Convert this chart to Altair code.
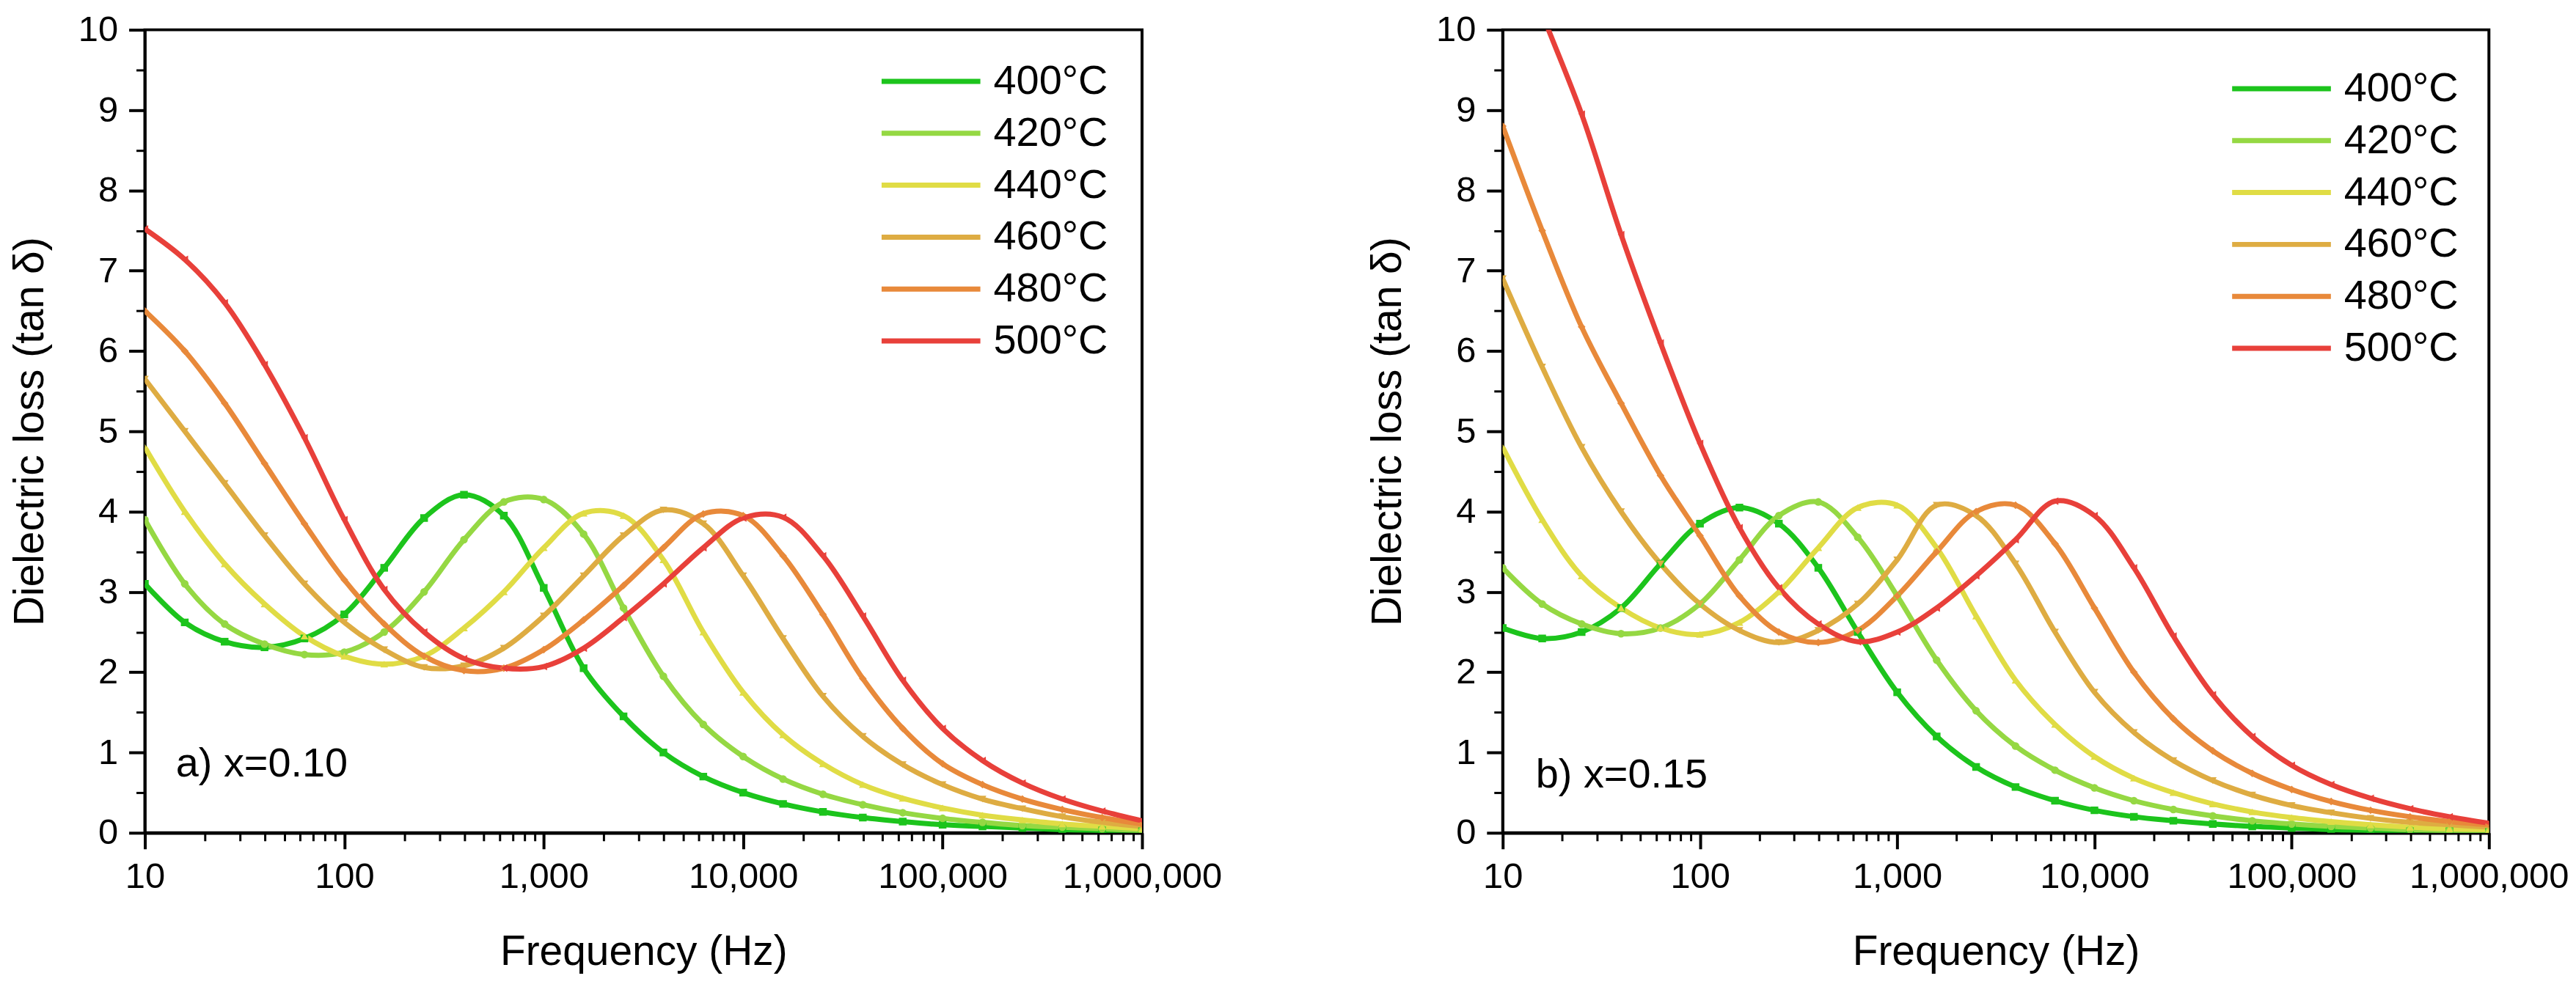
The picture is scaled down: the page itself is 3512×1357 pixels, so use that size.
import pandas as pd
import altair as alt

FONT = "Liberation Sans"

# frequency grid (Hz), one reading every 0.2 decade
freq_hz = [10, 15.85, 25.12, 39.81, 63.1, 100, 158.5, 251.2, 398.1, 631,
           1000, 1585, 2512, 3981, 6310, 10000, 15850, 25120, 39810, 63100,
           100000, 158500, 251200, 398100, 631000, 1000000]

temps = ["400°C", "420°C", "440°C", "460°C", "480°C", "500°C"]
colors = ["#1cc41c", "#95d843", "#e0dc45", "#deac42", "#e8893a", "#e8403a"]
shapes = ["square", "circle", "triangle-up", "triangle-down", "diamond", "triangle-left"]

# a) x=0.10
a_400 = [3.10, 2.62, 2.38, 2.31, 2.42, 2.72, 3.30, 3.92, 4.21, 3.95, 3.05, 2.05, 1.45,
         1.00, 0.70, 0.50, 0.36, 0.26, 0.19, 0.14, 0.10, 0.08, 0.06, 0.04, 0.03, 0.02]
a_420 = [3.90, 3.10, 2.60, 2.35, 2.22, 2.25, 2.50, 3.00, 3.65, 4.12, 4.15, 3.72, 2.80,
         1.95, 1.35, 0.95, 0.67, 0.48, 0.35, 0.25, 0.18, 0.13, 0.09, 0.07, 0.05, 0.03]
a_440 = [4.80, 4.00, 3.35, 2.85, 2.45, 2.20, 2.10, 2.20, 2.55, 3.00, 3.55, 3.98, 3.95,
         3.40, 2.50, 1.75, 1.22, 0.86, 0.60, 0.43, 0.31, 0.22, 0.16, 0.11, 0.08, 0.05]
a_460 = [5.65, 5.00, 4.35, 3.70, 3.10, 2.62, 2.28, 2.06, 2.08, 2.30, 2.70, 3.20, 3.70,
         4.02, 3.85, 3.20, 2.42, 1.70, 1.20, 0.85, 0.60, 0.42, 0.30, 0.20, 0.13, 0.08]
a_480 = [6.50, 6.00, 5.35, 4.60, 3.85, 3.15, 2.60, 2.20, 2.02, 2.05, 2.28, 2.65, 3.08,
         3.55, 3.97, 3.95, 3.45, 2.72, 1.92, 1.30, 0.86, 0.60, 0.42, 0.29, 0.19, 0.11]
a_500 = [7.52, 7.14, 6.60, 5.83, 4.92, 3.90, 3.03, 2.50, 2.17, 2.05, 2.07, 2.30, 2.68,
         3.10, 3.55, 3.92, 3.93, 3.45, 2.70, 1.90, 1.30, 0.90, 0.62, 0.42, 0.27, 0.15]

# b) x=0.15
b_400 = [2.55, 2.42, 2.50, 2.80, 3.35, 3.85, 4.05, 3.85, 3.30, 2.50, 1.75, 1.20, 0.82,
         0.57, 0.40, 0.28, 0.20, 0.15, 0.11, 0.08, 0.06, 0.04, 0.03, 0.02, 0.02, 0.01]
b_420 = [3.30, 2.85, 2.60, 2.48, 2.55, 2.85, 3.40, 3.95, 4.12, 3.68, 2.95, 2.15, 1.52,
         1.08, 0.78, 0.56, 0.40, 0.29, 0.21, 0.15, 0.11, 0.08, 0.06, 0.04, 0.03, 0.02]
b_440 = [4.80, 3.90, 3.20, 2.80, 2.55, 2.47, 2.62, 3.00, 3.55, 4.05, 4.08, 3.55, 2.70,
         1.90, 1.35, 0.95, 0.68, 0.50, 0.36, 0.26, 0.19, 0.14, 0.10, 0.07, 0.05, 0.04]
b_460 = [6.90, 5.80, 4.80, 4.00, 3.35, 2.85, 2.52, 2.37, 2.52, 2.85, 3.40, 4.08, 3.95,
         3.35, 2.50, 1.75, 1.25, 0.90, 0.65, 0.47, 0.34, 0.25, 0.18, 0.13, 0.10, 0.07]
b_480 = [8.80, 7.50, 6.30, 5.35, 4.45, 3.70, 2.95, 2.50, 2.37, 2.52, 2.95, 3.50, 4.00,
         4.08, 3.60, 2.80, 2.00, 1.42, 1.02, 0.74, 0.54, 0.39, 0.28, 0.20, 0.14, 0.10]
b_500 = [11.50, 10.20, 8.95, 7.45, 6.10, 4.85, 3.80, 3.05, 2.60, 2.38, 2.50, 2.80, 3.20,
         3.65, 4.13, 3.95, 3.30, 2.45, 1.72, 1.20, 0.84, 0.60, 0.43, 0.30, 0.20, 0.12]

x_major = [10, 100, 1000, 10000, 100000, 1000000]
x_minor = [20, 30, 40, 50, 60, 70, 80, 90,
           200, 300, 400, 500, 600, 700, 800, 900,
           2000, 3000, 4000, 5000, 6000, 7000, 8000, 9000,
           20000, 30000, 40000, 50000, 60000, 70000, 80000, 90000,
           200000, 300000, 400000, 500000, 600000, 700000, 800000, 900000]
y_major = [0, 1, 2, 3, 4, 5, 6, 7, 8, 9, 10]
y_minor = [0.5, 1.5, 2.5, 3.5, 4.5, 5.5, 6.5, 7.5, 8.5, 9.5]


def panel(series, note, note_x, note_y, width, height, leg_x, leg_y):
    rows = []
    for t, vals in zip(temps, series):
        for f, v in zip(freq_hz, vals):
            rows.append({"Frequency": f, "Loss": v, "Temp": t})
    df = pd.DataFrame(rows)

    xs = alt.Scale(type="log", domain=[10, 1000000], nice=False)
    ys = alt.Scale(domain=[0, 10], nice=False)
    cs = alt.Scale(domain=temps, range=colors)
    base = alt.Chart(df)

    lines = base.mark_line(strokeWidth=7, interpolate="catmull-rom", clip=True).encode(
        x=alt.X("Frequency:Q", scale=xs,
                axis=alt.Axis(orient="bottom", values=x_major, format=",d",
                              title="Frequency (Hz)", tickSize=22, tickWidth=4,
                              domainWidth=4.5, labelPadding=14, titlePadding=50,
                              labelFlush=False, labelOverlap=False, labelLimit=0)),
        y=alt.Y("Loss:Q", scale=ys,
                axis=alt.Axis(orient="left", values=y_major, format="d",
                              title="Dielectric loss (tan δ)", tickSize=22,
                              tickWidth=4, domainWidth=3.5, labelPadding=15,
                              titlePadding=36, labelFlush=False, labelOverlap=False)),
        color=alt.Color("Temp:N", scale=cs,
                        legend=alt.Legend(title=None, orient="none",
                                          legendX=leg_x, legendY=leg_y,
                                          symbolType="M-2.5,0L2.5,0", symbolSize=2916,
                                          symbolStrokeWidth=7, labelFontSize=56,
                                          labelFont=FONT, labelColor="black",
                                          labelOffset=55, rowPadding=12, padding=0)),
    )
    # one marker layer per series so each keeps its own symbol shape
    markers = []
    for t, s in zip(temps, shapes):
        markers.append(
            base.transform_filter(alt.datum.Temp == t).mark_point(
                shape=s, filled=True, size=110, opacity=1, clip=True
            ).encode(
                x=alt.X("Frequency:Q", scale=xs, axis=None),
                y=alt.Y("Loss:Q", scale=ys, axis=None),
                color=alt.Color("Temp:N", scale=cs, legend=None),
            )
        )
    minor = base.mark_point(opacity=0, clip=True).encode(
        x=alt.X("Frequency:Q", scale=xs,
                axis=alt.Axis(orient="bottom", values=x_minor, labels=False,
                              domain=False, tickSize=11, tickWidth=3, title=None)),
        y=alt.Y("Loss:Q", scale=ys,
                axis=alt.Axis(orient="left", values=y_minor, labels=False,
                              domain=False, tickSize=12, tickWidth=3, title=None)),
    )
    label = alt.Chart(pd.DataFrame({"x": [note_x], "y": [note_y], "t": [note]})).mark_text(
        align="left", baseline="middle", fontSize=56, font=FONT, color="black"
    ).encode(
        x=alt.X("x:Q", scale=xs, axis=None),
        y=alt.Y("y:Q", scale=ys, axis=None),
        text="t:N",
    )
    return alt.layer(lines, *markers, minor, label).resolve_axis(
        x="independent", y="independent"
    ).properties(width=width, height=height)


left = panel([a_400, a_420, a_440, a_460, a_480, a_500], "a) x=0.10", 14.3, 0.86,
             1363, 1098, 1044, 40)
right = panel([b_400, b_420, b_440, b_460, b_480, b_500], "b) x=0.15", 14.7, 0.72,
              1348, 1098, 1034, 50)

chart = alt.hconcat(left, right, spacing=194).resolve_scale(
    color="independent"
).resolve_legend(
    color="independent"
).properties(
    padding={"left": 2, "top": 5, "right": 0, "bottom": 5},
    background="white",
).configure_view(
    stroke="black", strokeWidth=4
).configure_axis(
    grid=False, labelFont=FONT, titleFont=FONT, labelFontSize=49, titleFontSize=57,
    labelColor="black", titleColor="black", domainColor="black", tickColor="black",
    titleFontWeight="normal",
)

chart.save("out.html", embed_options={"renderer": "svg", "actions": False})
